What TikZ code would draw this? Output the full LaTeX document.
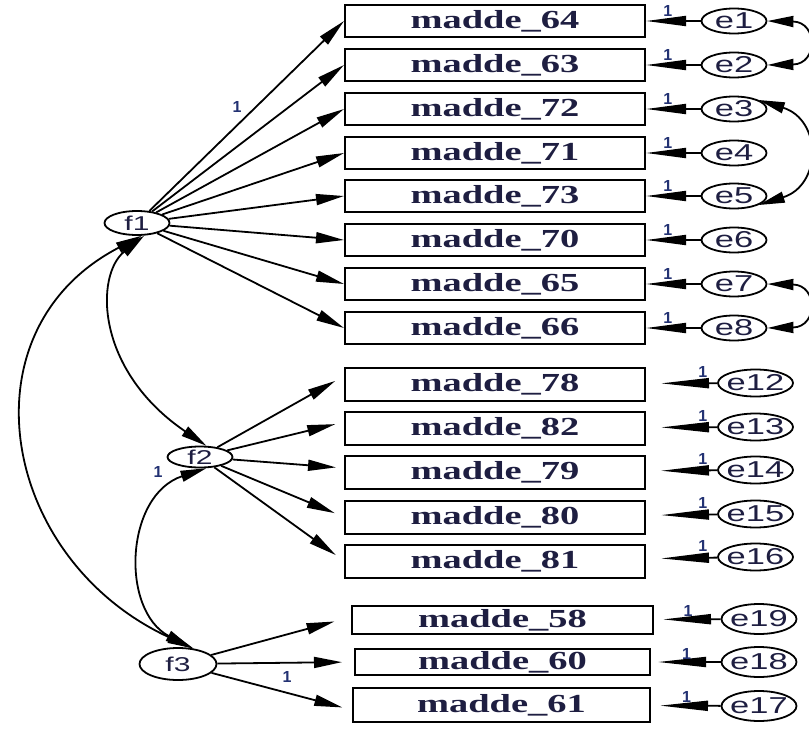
\documentclass[tikz,border=0pt]{standalone}
\usepackage{fontspec}
\usetikzlibrary{arrows.meta,shapes.geometric}
\newfontfamily\itemfont[FakeStretch=1.48]{Liberation Serif}
\newfontfamily\latfont[FakeStretch=1.5]{Liberation Sans}
\newfontfamily\onefont{Liberation Sans}
\definecolor{ink}{RGB}{30,30,65}
\definecolor{pathblue}{RGB}{35,50,115}

\begin{document}
\begin{tikzpicture}[x=1pt,y=-1pt,
  item/.style={draw,line width=2pt,minimum width=300pt,minimum height=32pt,inner sep=0pt,text=ink,font=\itemfont\bfseries\fontsize{26}{26}\selectfont},
  lat/.style={draw,ellipse,line width=1.8pt,inner xsep=-6pt,inner ysep=0pt,text=ink},
  err/.style={lat,minimum width=65pt,minimum height=25pt,font=\latfont\fontsize{23}{23}\selectfont},
  fac/.style={lat,font=\latfont\fontsize{20}{20}\selectfont},
  load/.style={line width=1.8pt,-{Triangle[length=28pt,width=11pt]}},
  res/.style={line width=1.8pt,-{Triangle[length=40pt,width=10pt]}},
  resb/.style={line width=1.8pt,-{Triangle[length=48pt,width=10pt]}},
  cov/.style={line width=1.8pt,{Triangle[length=26pt,width=11pt]}-{Triangle[length=26pt,width=11pt]}},
  one/.style={text=pathblue,font=\onefont\bfseries\fontsize{16}{16}\selectfont,inner sep=1pt}]
\useasboundingbox (0,0) rectangle (809,731);

% observed items
\node[item] (m64) at (495,21) {madde\_64};
\node[item] (m63) at (495,65) {madde\_63};
\node[item] (m72) at (495,109) {madde\_72};
\node[item] (m71) at (495,153) {madde\_71};
\node[item] (m73) at (495,196) {madde\_73};
\node[item] (m70) at (495,240) {madde\_70};
\node[item] (m65) at (495,284) {madde\_65};
\node[item] (m66) at (495,328) {madde\_66};

\node[item,minimum height=33pt] (m78) at (495,384) {madde\_78};
\node[item,minimum height=33pt] (m82) at (495,428) {madde\_82};
\node[item,minimum height=33pt] (m79) at (495,472) {madde\_79};
\node[item,minimum height=33pt] (m80) at (495,517) {madde\_80};
\node[item,minimum height=33pt] (m81) at (495,561) {madde\_81};

\node[item,minimum width=301pt,minimum height=28pt] (m58) at (502.5,620) {madde\_58};
\node[item,minimum width=295pt,minimum height=26pt] (m60) at (502.5,662) {madde\_60};
\node[item,minimum width=297pt,minimum height=34pt] (m61) at (501.5,705) {madde\_61};

% latent factors
\node[fac,minimum width=65pt,minimum height=24pt] (f1) at (137,223) {f1};
\node[fac,minimum width=65pt,minimum height=21pt] (f2) at (200,457) {f2};
\node[fac,minimum width=77pt,minimum height=32pt] (f3) at (178,664) {f3};

% error terms
\node[err] (e1) at (734,21) {e1};
\node[err] (e2) at (734,65) {e2};
\node[err] (e3) at (734,109) {e3};
\node[err] (e4) at (734,153) {e4};
\node[err] (e5) at (734,196) {e5};
\node[err] (e6) at (734,240) {e6};
\node[err] (e7) at (734,284) {e7};
\node[err] (e8) at (734,328) {e8};

\node[err,minimum width=75pt,minimum height=27pt] (e12) at (755.5,383) {e12};
\node[err,minimum width=75pt,minimum height=27pt] (e13) at (755.5,427) {e13};
\node[err,minimum width=75pt,minimum height=27pt] (e14) at (755.5,470) {e14};
\node[err,minimum width=75pt,minimum height=27pt] (e15) at (755.5,514) {e15};
\node[err,minimum width=75pt,minimum height=27pt] (e16) at (755.5,557) {e16};

\node[err,minimum width=75pt,minimum height=30pt] (e19) at (759,619) {e19};
\node[err,minimum width=75pt,minimum height=30pt] (e18) at (759,662) {e18};
\node[err,minimum width=75pt,minimum height=30pt] (e17) at (759,706) {e17};

% loadings
\draw[load] (f1) -- (m64.west);
\draw[load] (f1) -- (m63.west);
\draw[load] (f1) -- (m72.west);
\draw[load] (f1) -- (m71.west);
\draw[load] (f1) -- (m73.west);
\draw[load] (f1) -- (m70.west);
\draw[load] (f1) -- (m65.west);
\draw[load] (f1) -- (m66.west);
\node[one] (w1) at (237,107) {1};

\draw[load,shorten >=10pt] (f2) -- ([yshift=8pt]m78.west);
\draw[load,shorten >=9pt] (f2) -- ([yshift=6pt]m82.west);
\draw[load,shorten >=8pt] (f2) -- ([yshift=4pt]m79.west);
\draw[load,shorten >=10pt] (f2) -- (m80.west);
\draw[load,shorten >=10pt] (f2) -- (m81.west);
\node[one] (w2) at (158,472) {1};

\draw[load,shorten >=17pt] (f3) -- ([yshift=3pt]m58.west);
\draw[load,shorten >=12pt] (f3) -- (m60.west);
\draw[load,shorten >=10pt] (f3) -- ([yshift=-5pt]m61.west);
\node[one] (w3) at (287,677) {1};

% residuals
\draw[res] (e1) -- (m64) node[one,pos=.6,above=3pt] (r1) {1};
\draw[res] (e2) -- (m63) node[one,pos=.6,above=3pt] (r2) {1};
\draw[res] (e3) -- (m72) node[one,pos=.6,above=3pt] (r3) {1};
\draw[res] (e4) -- (m71) node[one,pos=.6,above=3pt] (r4) {1};
\draw[res] (e5) -- (m73) node[one,pos=.6,above=3pt] (r5) {1};
\draw[res] (e6) -- (m70) node[one,pos=.6,above=3pt] (r6) {1};
\draw[res] (e7) -- (m65) node[one,pos=.6,above=3pt] (r7) {1};
\draw[res] (e8) -- (m66) node[one,pos=.6,above=3pt] (r8) {1};

\draw[resb,shorten >=15pt] (e12) -- (m78) node[one,pos=.2,above=4pt] (r12) {1};
\draw[resb,shorten >=15pt] (e13) -- (m82) node[one,pos=.2,above=4pt] (r13) {1};
\draw[resb,shorten >=15pt] (e14) -- (m79) node[one,pos=.2,above=4pt] (r14) {1};
\draw[resb,shorten >=15pt] (e15) -- (m80) node[one,pos=.2,above=4pt] (r15) {1};
\draw[resb,shorten >=15pt] (e16) -- (m81) node[one,pos=.2,above=4pt] (r16) {1};

\draw[resb,shorten >=9pt] (e19) -- (m58) node[one,pos=.49,above=1pt] (r19) {1};
\draw[resb,shorten >=7pt] (e18) -- (m60) node[one,pos=.49,above=1pt] (r18) {1};
\draw[resb,shorten >=9pt] (e17) -- (m61) node[one,pos=.49,above=1pt] (r17) {1};

% covariances
\draw[cov] (f1.-60) .. controls (95,275) and (95,370) .. (f2.60);
\draw[cov] (f1.-70) .. controls (-40,330) and (0,560) .. (f3.45);
\draw[cov] (f2.-60) .. controls (125,495) and (120,610) .. (f3.50);
\draw[cov] (e1.east) .. controls (818,22) and (818,64) .. (e2.east);
\draw[cov] (e3.20) .. controls (822,120) and (822,185) .. (e5.-20);
\draw[cov] (e7.east) .. controls (818,285) and (818,327) .. (e8.east);
\end{tikzpicture}
\end{document}
